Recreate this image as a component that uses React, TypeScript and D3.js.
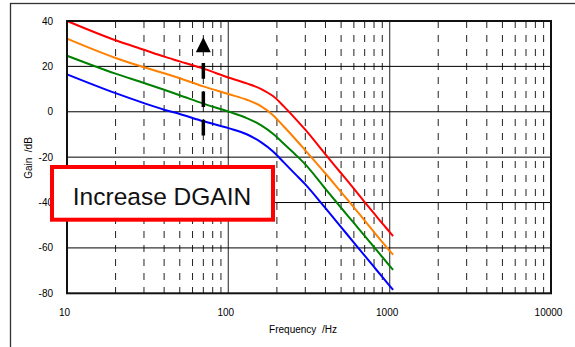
import React, { useEffect, useRef } from 'react';
import * as d3 from 'd3';

// frequency points (Hz) shared by all four curves
const freqs = [10, 20, 30, 40, 50, 70, 100, 130, 160, 190, 220, 260, 300, 400, 500, 600, 700, 800, 900, 1000, 1050];

// gain in dB, one list per DGAIN setting
const redGain = [40, 31.5, 27.3, 24.3, 22.2, 19.0, 15.1, 12.5, 10.0, 6.8, 2.5, -3.0, -7.9, -18.8, -27.1, -33.9, -39.8, -44.8, -49.2, -53.0, -54.8];
const orangeGain = [32.2, 23.7, 19.6, 17.0, 14.8, 11.2, 7.8, 5.3, 2.4, -1.6, -6.4, -12.0, -17.0, -27.2, -35.4, -42.1, -48.0, -53.0, -57.4, -61.3, -63.0];
const greenGain = [24.7, 16.8, 12.7, 9.7, 7.3, 3.6, 0.1, -2.8, -6.0, -9.8, -14.0, -18.8, -23.2, -34.0, -42.3, -49.0, -54.7, -59.6, -64.0, -67.9, -69.7];
const blueGain = [16.5, 8.2, 3.8, 0.9, -1.0, -4.2, -7.2, -9.9, -13.5, -17.6, -22.2, -27.5, -32.0, -42.5, -50.8, -57.7, -63.4, -68.4, -72.8, -76.7, -78.5];

const seriesColors = ['#ff0000', '#ff8000', '#008000', '#0000ff'];

const yTicks = [40, 20, 0, -20, -40, -60, -80];
const xTicks = [10, 100, 1000, 10000];
const xTickLabels = ['10', '100', '1000', '10000'];

function GainChart() {
  const svgRef = useRef<SVGSVGElement>(null);

  useEffect(() => {
    const W = 575;
    const H = 347;
    const left = 67, right = 551, top = 21, bottom = 293.3;
    const font = 'Liberation Sans, Arial, sans-serif';

    const svg = d3.select(svgRef.current);
    svg.selectAll('*').remove();
    svg.attr('width', W).attr('height', H);

    svg.append('rect').attr('width', W).attr('height', H).attr('fill', '#fff');

    // outer frame
    svg.append('rect')
      .attr('x', 10.5).attr('y', 3.5)
      .attr('width', 600).attr('height', 400)
      .attr('fill', 'none').attr('stroke', '#333').attr('stroke-width', 1.3);

    const x = d3.scaleLog().domain([10, 10000]).range([left, right]);
    const y = d3.scaleLinear().domain([-80, 40]).range([bottom, top]);

    const g = svg.append('g');

    // minor (dashed) frequency lines
    const minor: number[] = [];
    [10, 100, 1000].forEach(dec => {
      for (let k = 2; k <= 9; k++) minor.push(dec * k);
    });
    g.selectAll('.minor')
      .data(minor)
      .enter().append('line')
      .attr('x1', d => x(d)).attr('x2', d => x(d))
      .attr('y1', top).attr('y2', bottom)
      .attr('stroke', '#222').attr('stroke-width', 1)
      .attr('stroke-dasharray', '7,7');

    // decade lines
    g.selectAll('.decade')
      .data([100, 1000])
      .enter().append('line')
      .attr('x1', d => x(d)).attr('x2', d => x(d))
      .attr('y1', top).attr('y2', bottom)
      .attr('stroke', '#555').attr('stroke-width', 1.3);

    // horizontal grid
    g.selectAll('.hgrid')
      .data([20, 0, -20, -40, -60])
      .enter().append('line')
      .attr('x1', left).attr('x2', right)
      .attr('y1', d => y(d)).attr('y2', d => y(d))
      .attr('stroke', '#000').attr('stroke-width', 1);

    // curves
    const line = d3.line<number>()
      .x((_, i) => x(freqs[i]))
      .y(d => y(d))
      .curve(d3.curveMonotoneX);

    [redGain, orangeGain, greenGain, blueGain].forEach((s, i) => {
      g.append('path')
        .attr('d', line(s))
        .attr('fill', 'none')
        .attr('stroke', seriesColors[i])
        .attr('stroke-width', 2);
    });

    // plot border
    g.append('rect')
      .attr('x', left).attr('y', top)
      .attr('width', right - left).attr('height', bottom - top)
      .attr('fill', 'none').attr('stroke', '#111').attr('stroke-width', 2);

    // y tick labels
    svg.selectAll('.ylab')
      .data(yTicks)
      .enter().append('text')
      .attr('x', 53).attr('y', d => y(d) + 3.5)
      .attr('text-anchor', 'end')
      .attr('font-family', font).attr('font-size', 10)
      .text(d => String(d));

    // x tick labels
    svg.selectAll('.xlab')
      .data(xTicks)
      .enter().append('text')
      .attr('x', d => x(d) - 2.5).attr('y', 315.5)
      .attr('text-anchor', 'middle')
      .attr('font-family', font).attr('font-size', 10)
      .text((_, i) => xTickLabels[i]);

    svg.append('text')
      .attr('x', 303).attr('y', 333)
      .attr('text-anchor', 'middle')
      .attr('font-family', font).attr('font-size', 10)
      .text('Frequency \u00a0/Hz');

    svg.append('text')
      .attr('transform', 'translate(32,158) rotate(-90)')
      .attr('text-anchor', 'middle')
      .attr('font-family', font).attr('font-size', 10)
      .text('Gain \u00a0/dB');

    // arrow showing the direction of increasing DGAIN
    const ax = x(70);
    svg.append('line')
      .attr('x1', ax).attr('x2', ax)
      .attr('y1', y(21.5)).attr('y2', y(-10.5))
      .attr('stroke', '#000').attr('stroke-width', 3.5)
      .attr('stroke-dasharray', '15.7,12.7');
    svg.append('path')
      .attr('d', `M${ax},${y(32.8)} L${ax - 7.5},${y(26.2)} L${ax + 7.5},${y(26.2)} Z`)
      .attr('fill', '#000');

    // label box
    svg.append('rect')
      .attr('x', 52).attr('y', 167)
      .attr('width', 221).attr('height', 52.7)
      .attr('fill', '#fff').attr('stroke', '#ff0000').attr('stroke-width', 4);
    svg.append('text')
      .attr('x', 162).attr('y', 205)
      .attr('text-anchor', 'middle')
      .attr('font-family', font).attr('font-size', 24.5)
      .attr('fill', '#111')
      .text('Increase DGAIN');
  }, []);

  return <svg ref={svgRef} style={{ position: 'absolute', left: 0, top: 0, display: 'block' }}></svg>;
}

export default function App() {
  return <GainChart />;
}
